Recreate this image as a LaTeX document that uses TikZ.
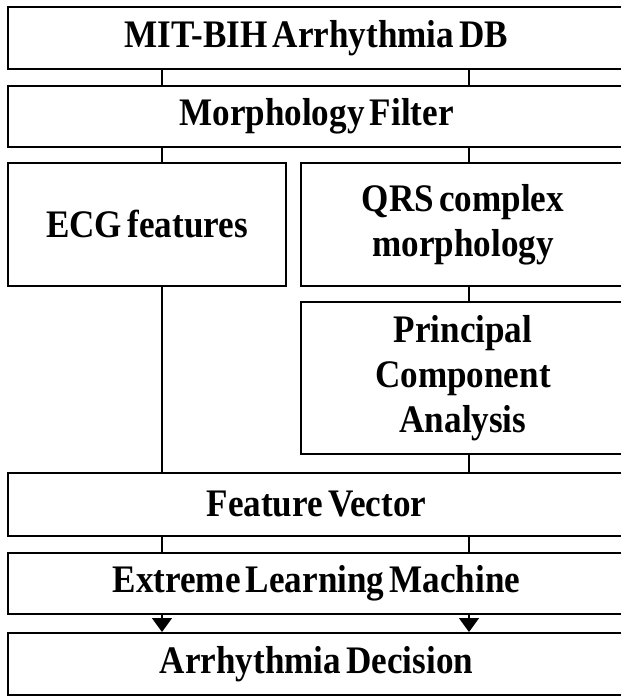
\documentclass[tikz,border=0pt]{standalone}
\usepackage{fontspec}
\setmainfont{Liberation Serif}[WordSpace=0.6, FakeStretch=0.9]
\usetikzlibrary{arrows.meta}
\begin{document}
\begin{tikzpicture}[x=1pt,y=-1pt,
  box/.style={draw=black, line width=2pt, inner sep=0pt, align=center,
    font=\fontsize{39}{45}\selectfont\bfseries},
  conn/.style={draw=black, line width=1.6pt},
  arr/.style={conn, -{Triangle[width=20pt,length=14pt]}}]
\useasboundingbox (0,0) rectangle (621,696);
\begin{scope}
\clip (0,0) rectangle (621,696);
\node[box, minimum width=617pt, minimum height=62pt] (db) at (316.5,38) {MIT-BIH Arrhythmia DB};
\node[box, minimum width=617pt, minimum height=61pt] (mf) at (316.5,116.5) {Morphology Filter};
\node[box, minimum width=278pt, minimum height=123pt] (ecg) at (147,224.5) {ECG features};
\node[box, minimum width=324pt, minimum height=123pt] (qrs) at (463,224.5) {QRS complex\\morphology};
\node[box, minimum width=324pt, minimum height=152pt] (pca) at (463,378) {Principal\\Component\\Analysis};
\node[box, minimum width=617pt, minimum height=63pt] (fv) at (316.5,504.5) {Feature Vector};
\node[box, minimum width=617pt, minimum height=61pt] (elm) at (316.5,583.5) {Extreme Learning Machine};
\node[box, minimum width=617pt, minimum height=62pt] (ad) at (316.5,664) {Arrhythmia Decision};
\end{scope}
\coordinate (L) at (162,0);
\coordinate (R) at (469,0);
\draw[conn] (db.south -| L) -- (mf.north -| L);
\draw[conn] (db.south -| R) -- (mf.north -| R);
\draw[conn] (mf.south -| L) -- (ecg.north -| L);
\draw[conn] (mf.south -| R) -- (qrs.north -| R);
\draw[conn] (ecg.south -| L) -- (fv.north -| L);
\draw[conn] (qrs.south -| R) -- (pca.north -| R);
\draw[conn] (pca.south -| R) -- (fv.north -| R);
\draw[conn] (fv.south -| L) -- (elm.north -| L);
\draw[conn] (fv.south -| R) -- (elm.north -| R);
\draw[arr] (elm.south -| L) -- (ad.north -| L);
\draw[arr] (elm.south -| R) -- (ad.north -| R);
\end{tikzpicture}
\end{document}
